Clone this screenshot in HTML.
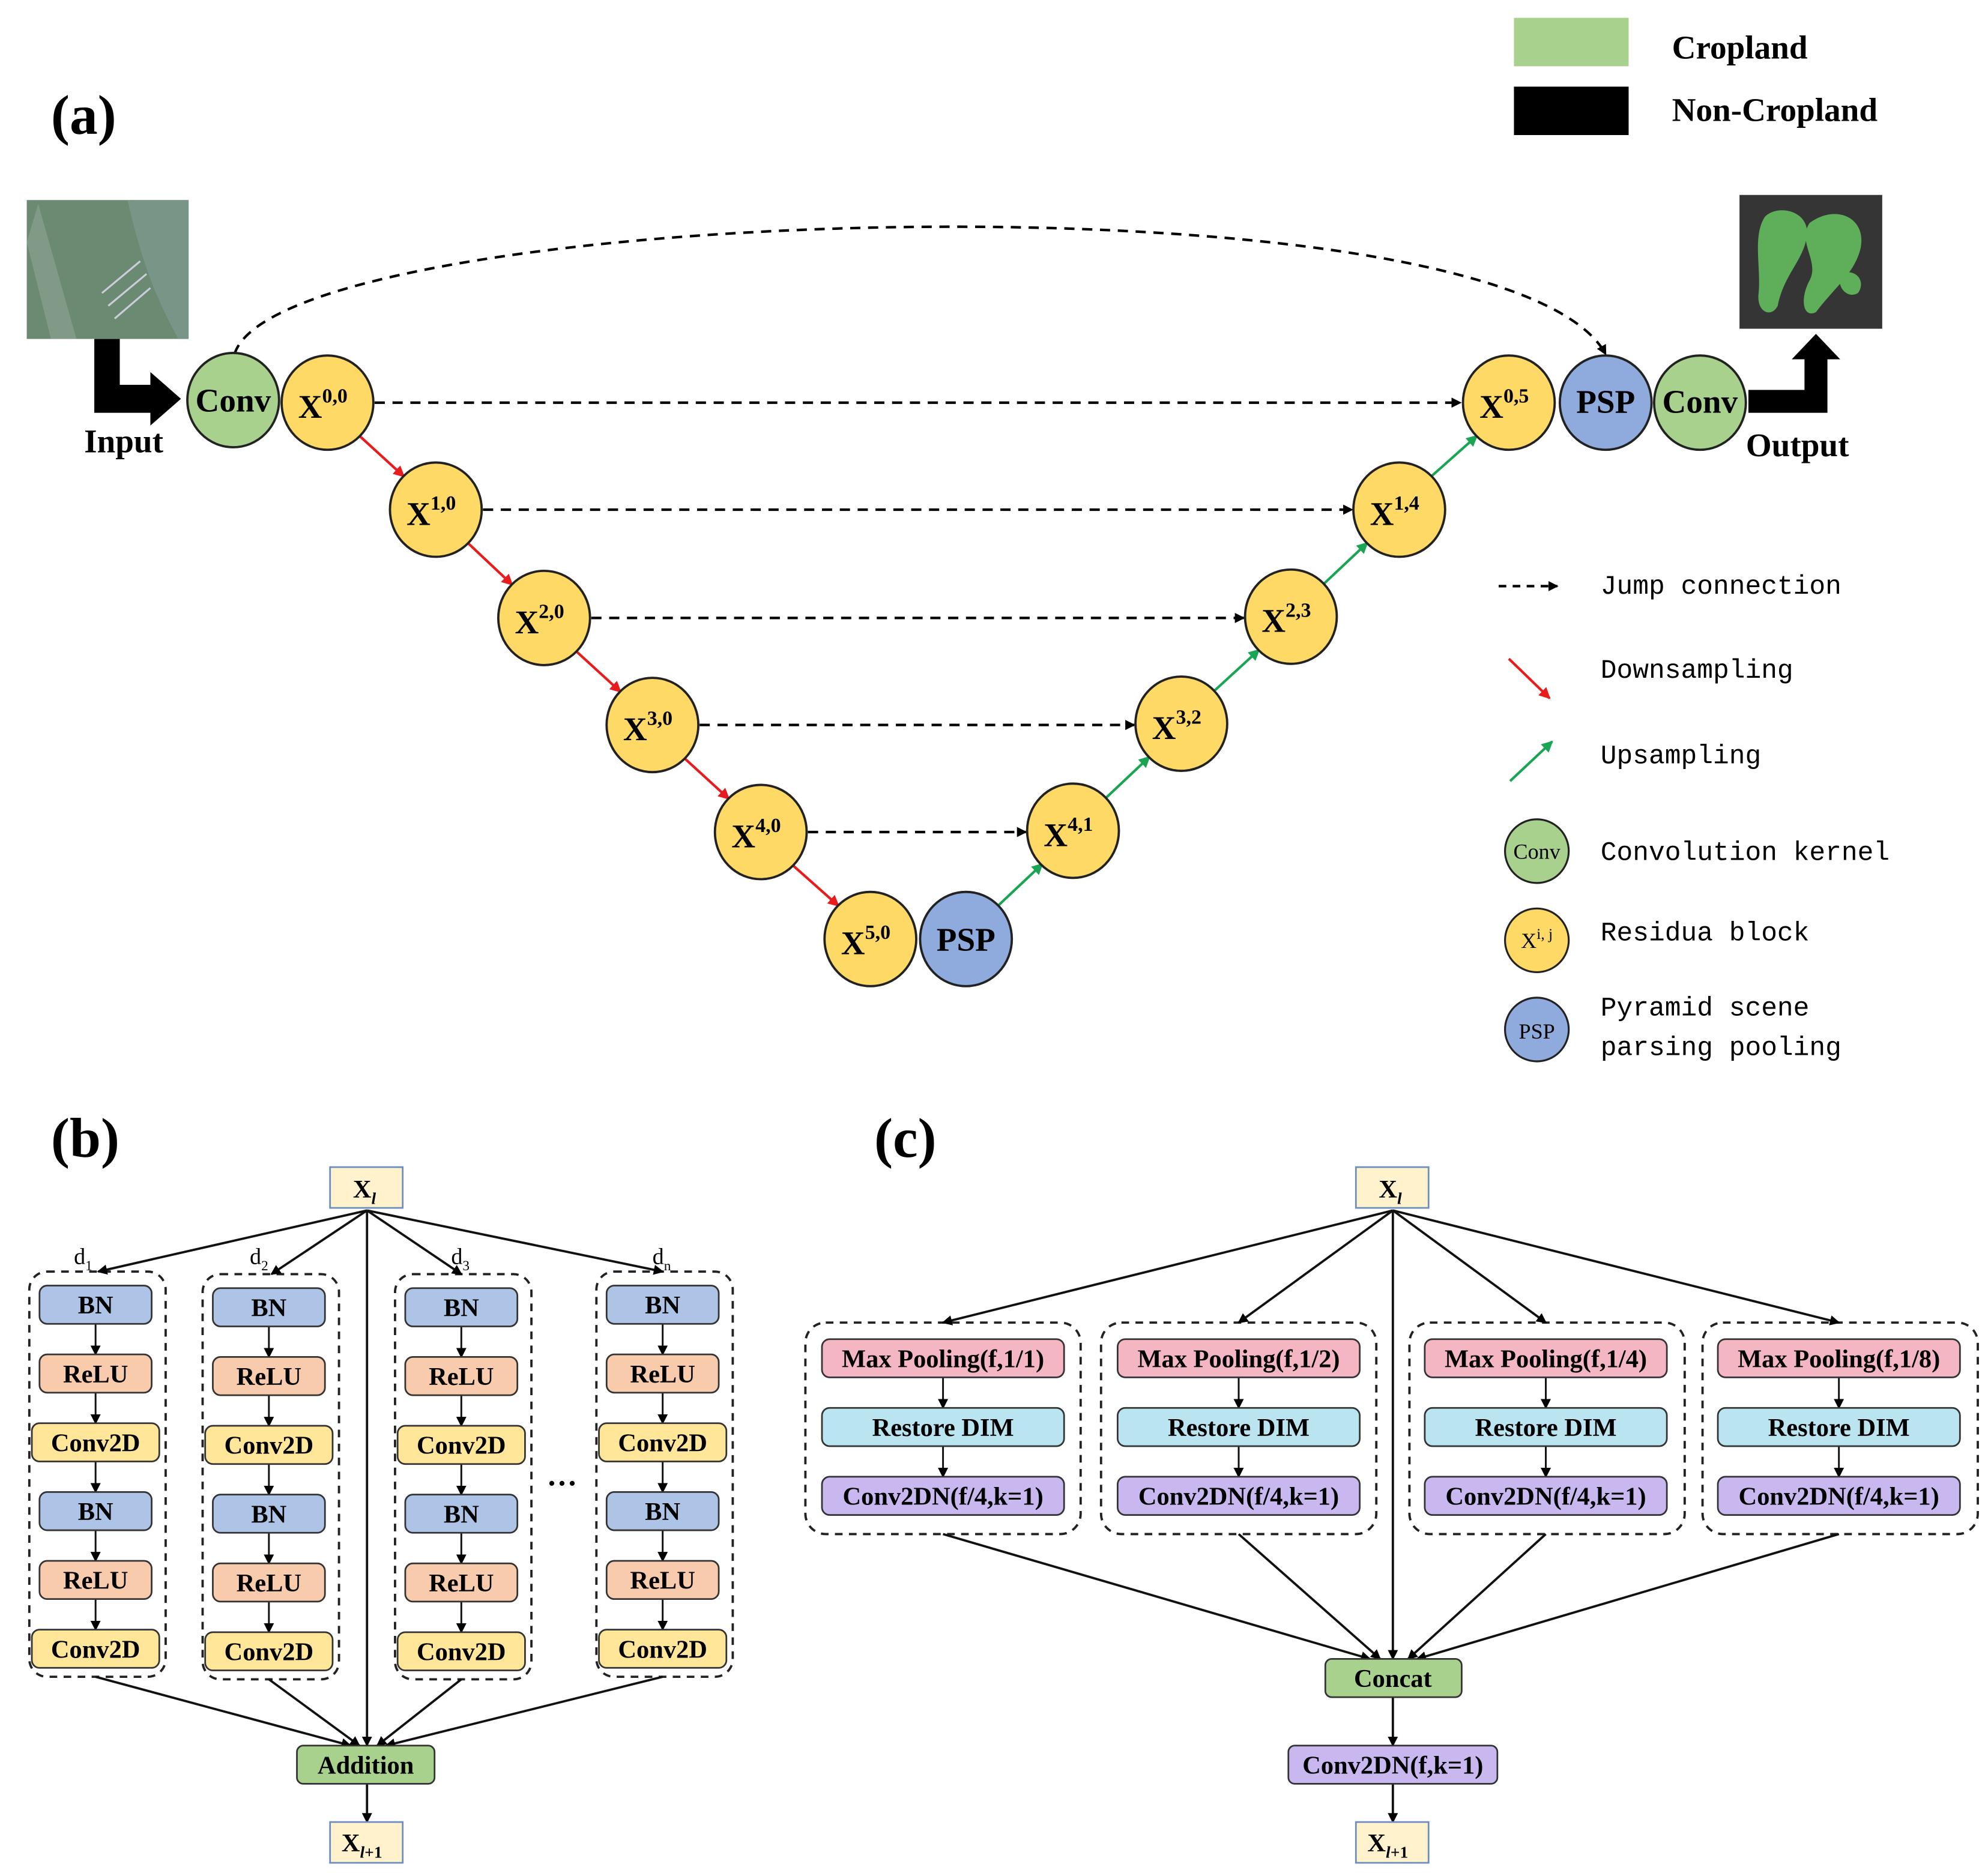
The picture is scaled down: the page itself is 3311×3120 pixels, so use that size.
<!DOCTYPE html>
<html><head><meta charset="utf-8"><style>
html,body{margin:0;padding:0;background:#fff}
svg{display:block}
.t{font-family:"Liberation Serif",serif;font-weight:bold;fill:#000}
.m{font-family:"Liberation Mono","DejaVu Sans Mono",monospace;fill:#000}
</style></head><body>
<svg width="3311" height="3120" viewBox="0 0 1560 1470" preserveAspectRatio="none" xmlns="http://www.w3.org/2000/svg">
<defs>
<marker id="ak" markerWidth="8" markerHeight="8" refX="7" refY="4" orient="auto" markerUnits="userSpaceOnUse"><path d="M0,0 L8,4 L0,8 z" fill="#000"/></marker>
<marker id="ar" markerWidth="9" markerHeight="9" refX="8" refY="4.5" orient="auto" markerUnits="userSpaceOnUse"><path d="M0,0 L9,4.5 L0,9 z" fill="#e81c1c"/></marker>
<marker id="ag" markerWidth="9" markerHeight="9" refX="8" refY="4.5" orient="auto" markerUnits="userSpaceOnUse"><path d="M0,0 L9,4.5 L0,9 z" fill="#1aa555"/></marker>
</defs>
<rect width="1560" height="1470" fill="#fff"/>

<text x="40" y="105" class="t" font-size="44">(a)</text>
<rect x="1188" y="14" width="90" height="38" fill="#a9d18e"/>
<rect x="1188" y="68" width="90" height="38" fill="#000"/>
<text x="1312" y="46" class="t" font-size="26">Cropland</text>
<text x="1312" y="95" class="t" font-size="26">Non-Cropland</text>

<rect x="21" y="157" width="127" height="109" fill="#6b8a72"/>
<path d="M100,157 C110,200 120,230 140,266 L148,266 L148,157z" fill="#7e9b92" opacity=".7"/>
<path d="M30,160 L60,266 L40,266 L21,190z" fill="#8ea596" opacity=".6"/>
<path d="M80,230 L110,205 M85,240 L115,215 M90,250 L118,226" stroke="#ccd" stroke-width="1.5"/>
<path d="M74,266 L94,266 L94,302 L118,302 L118,292 L142,313 L118,334 L118,324 L74,324z" fill="#000"/>
<text x="66" y="355" class="t" font-size="26">Input</text>

<rect x="1365" y="153" width="112" height="105" fill="#353535"/>
<path d="M1385,170 C1395,160 1420,165 1418,185 C1415,205 1400,215 1395,240 C1390,250 1378,245 1380,230 C1382,210 1375,185 1385,170z" fill="#5fae5a"/>
<path d="M1420,175 C1440,160 1465,170 1460,195 C1455,215 1440,225 1425,245 C1415,250 1412,235 1420,220 C1428,205 1410,190 1420,175z" fill="#5fae5a"/>
<path d="M1445,215 C1455,210 1465,220 1458,230 C1450,235 1440,225 1445,215z" fill="#5fae5a"/>
<path d="M1372,306 L1416,306 L1416,282 L1406,282 L1425,262 L1444,282 L1434,282 L1434,324 L1372,324z" fill="#000"/>
<text x="1370" y="358" class="t" font-size="26">Output</text>

<path d="M184,278 C220,160 1180,130 1260,278" fill="none" stroke="#000" stroke-width="2" stroke-dasharray="8,6" marker-end="url(#ak)"/>

<g stroke="#000" stroke-width="2" stroke-dasharray="8,6" marker-end="url(#ak)">
<line x1="294" y1="316" x2="1146" y2="316"/>
<line x1="379" y1="400" x2="1061" y2="400"/>
<line x1="464" y1="485" x2="976" y2="485"/>
<line x1="549" y1="569" x2="890" y2="569"/>
<line x1="634" y1="653" x2="805" y2="653"/>
</g>
<g stroke="#e81c1c" stroke-width="2" marker-end="url(#ar)">
<line x1="282" y1="342" x2="317" y2="374"/>
<line x1="367" y1="426" x2="402" y2="459"/>
<line x1="452" y1="511" x2="487" y2="543"/>
<line x1="537" y1="595" x2="572" y2="627"/>
<line x1="622" y1="679" x2="658" y2="711"/>
</g>
<g stroke="#1aa555" stroke-width="2" marker-end="url(#ag)">
<line x1="783" y1="711" x2="818" y2="678"/>
<line x1="867" y1="627" x2="902" y2="594"/>
<line x1="952" y1="543" x2="988" y2="510"/>
<line x1="1038" y1="459" x2="1073" y2="426"/>
<line x1="1123" y1="374" x2="1159" y2="342"/>
</g>

<g stroke="#222" stroke-width="1.8">
<ellipse cx="183" cy="314" rx="36" ry="37" fill="#a9d18e"/>
<ellipse cx="257" cy="316" rx="36" ry="37" fill="#ffd966"/>
<ellipse cx="342" cy="400" rx="36" ry="37" fill="#ffd966"/>
<ellipse cx="427" cy="485" rx="36" ry="37" fill="#ffd966"/>
<ellipse cx="512" cy="569" rx="36" ry="37" fill="#ffd966"/>
<ellipse cx="597" cy="653" rx="36" ry="37" fill="#ffd966"/>
<ellipse cx="683" cy="737" rx="36" ry="37" fill="#ffd966"/>
<ellipse cx="758" cy="737" rx="36" ry="37" fill="#8faadc"/>
<ellipse cx="842" cy="652" rx="36" ry="37" fill="#ffd966"/>
<ellipse cx="927" cy="568" rx="36" ry="37" fill="#ffd966"/>
<ellipse cx="1013" cy="484" rx="36" ry="37" fill="#ffd966"/>
<ellipse cx="1098" cy="400" rx="36" ry="37" fill="#ffd966"/>
<ellipse cx="1184" cy="316" rx="36" ry="37" fill="#ffd966"/>
<ellipse cx="1260" cy="316" rx="36" ry="37" fill="#8faadc"/>
<ellipse cx="1334" cy="316" rx="36" ry="37" fill="#a9d18e"/>
</g>
<g class="t" font-size="26">
<text x="183" y="323" text-anchor="middle">Conv</text>
<text x="1334" y="324" text-anchor="middle">Conv</text>
<text x="758" y="746" text-anchor="middle">PSP</text>
<text x="1260" y="324" text-anchor="middle">PSP</text>
<text x="234" y="328">X<tspan font-size="16" dy="-12">0,0</tspan></text>
<text x="319" y="412">X<tspan font-size="16" dy="-12">1,0</tspan></text>
<text x="404" y="497">X<tspan font-size="16" dy="-12">2,0</tspan></text>
<text x="489" y="581">X<tspan font-size="16" dy="-12">3,0</tspan></text>
<text x="574" y="665">X<tspan font-size="16" dy="-12">4,0</tspan></text>
<text x="660" y="749">X<tspan font-size="16" dy="-12">5,0</tspan></text>
<text x="819" y="664">X<tspan font-size="16" dy="-12">4,1</tspan></text>
<text x="904" y="580">X<tspan font-size="16" dy="-12">3,2</tspan></text>
<text x="990" y="496">X<tspan font-size="16" dy="-12">2,3</tspan></text>
<text x="1075" y="412">X<tspan font-size="16" dy="-12">1,4</tspan></text>
<text x="1161" y="328">X<tspan font-size="16" dy="-12">0,5</tspan></text>
</g>

<line x1="1176" y1="460" x2="1222" y2="460" stroke="#000" stroke-width="2" stroke-dasharray="6,5" marker-end="url(#ak)"/>
<line x1="1184" y1="517" x2="1216" y2="548" stroke="#e81c1c" stroke-width="2" marker-end="url(#ar)"/>
<line x1="1185" y1="613" x2="1218" y2="582" stroke="#1aa555" stroke-width="2" marker-end="url(#ag)"/>
<g stroke="#222" stroke-width="1.5">
<ellipse cx="1206" cy="668" rx="25" ry="25" fill="#a9d18e"/>
<ellipse cx="1206" cy="738" rx="25" ry="25" fill="#ffd966"/>
<ellipse cx="1206" cy="808" rx="25" ry="25" fill="#8faadc"/>
</g>
<g font-family="Liberation Serif,serif" font-size="17" text-anchor="middle">
<text x="1206" y="674">Conv</text><text x="1206" y="744">X<tspan font-size="12" dy="-7">i, j</tspan></text><text x="1206" y="815">PSP</text>
</g>
<g class="m" font-size="21">
<text x="1256" y="466">Jump connection</text>
<text x="1256" y="532">Downsampling</text>
<text x="1256" y="599">Upsampling</text>
<text x="1256" y="675">Convolution kernel</text>
<text x="1256" y="738">Residua block</text>
<text x="1256" y="797">Pyramid scene</text>
<text x="1256" y="828">parsing pooling</text>
</g>

<text x="40" y="908" class="t" font-size="44">(b)</text>
<text x="686" y="908" class="t" font-size="44">(c)</text>

<g stroke="#222" stroke-width="1.8" fill="none" stroke-dasharray="6,5">
<rect x="23" y="998" width="107" height="318" rx="14"/>
<rect x="159" y="1000" width="107" height="318" rx="14"/>
<rect x="310" y="1000" width="107" height="318" rx="14"/>
<rect x="468" y="998" width="107" height="318" rx="14"/>
<rect x="632" y="1038" width="216" height="166" rx="16"/>
<rect x="864" y="1038" width="216" height="166" rx="16"/>
<rect x="1106" y="1038" width="216" height="166" rx="16"/>
<rect x="1336" y="1038" width="216" height="166" rx="16"/>
</g>

<g stroke="#111" stroke-width="1.8" marker-end="url(#ak)">
<line x1="288" y1="950" x2="77" y2="998"/>
<line x1="288" y1="950" x2="213" y2="1000"/>
<line x1="288" y1="950" x2="362" y2="1000"/>
<line x1="288" y1="950" x2="520" y2="998"/>
<line x1="288" y1="950" x2="288" y2="1370"/>
<line x1="75" y1="1316" x2="275" y2="1370"/>
<line x1="211" y1="1318" x2="282" y2="1370"/>
<line x1="362" y1="1318" x2="296" y2="1370"/>
<line x1="520" y1="1316" x2="303" y2="1370"/>
<line x1="288" y1="1400" x2="288" y2="1430"/>
<line x1="1093" y1="950" x2="740" y2="1038"/>
<line x1="1093" y1="950" x2="972" y2="1038"/>
<line x1="1093" y1="950" x2="1213" y2="1038"/>
<line x1="1093" y1="950" x2="1443" y2="1038"/>
<line x1="1093" y1="950" x2="1093" y2="1302"/>
<line x1="740" y1="1204" x2="1075" y2="1302"/>
<line x1="972" y1="1204" x2="1083" y2="1302"/>
<line x1="1213" y1="1204" x2="1105" y2="1302"/>
<line x1="1443" y1="1204" x2="1112" y2="1302"/>
<line x1="1093" y1="1332" x2="1093" y2="1370"/>
<line x1="1093" y1="1400" x2="1093" y2="1430"/>
</g>
<g stroke="#111" stroke-width="1.4" marker-end="url(#ak)">
<line x1="75" y1="1039" x2="75" y2="1063"/><line x1="75" y1="1093" x2="75" y2="1117"/><line x1="75" y1="1147" x2="75" y2="1171"/><line x1="75" y1="1201" x2="75" y2="1225"/><line x1="75" y1="1255" x2="75" y2="1279"/>
<line x1="211" y1="1041" x2="211" y2="1065"/><line x1="211" y1="1095" x2="211" y2="1119"/><line x1="211" y1="1149" x2="211" y2="1173"/><line x1="211" y1="1203" x2="211" y2="1227"/><line x1="211" y1="1257" x2="211" y2="1281"/>
<line x1="362" y1="1041" x2="362" y2="1065"/><line x1="362" y1="1095" x2="362" y2="1119"/><line x1="362" y1="1149" x2="362" y2="1173"/><line x1="362" y1="1203" x2="362" y2="1227"/><line x1="362" y1="1257" x2="362" y2="1281"/>
<line x1="520" y1="1039" x2="520" y2="1063"/><line x1="520" y1="1093" x2="520" y2="1117"/><line x1="520" y1="1147" x2="520" y2="1171"/><line x1="520" y1="1201" x2="520" y2="1225"/><line x1="520" y1="1255" x2="520" y2="1279"/>
<line x1="740" y1="1081" x2="740" y2="1105"/><line x1="740" y1="1135" x2="740" y2="1159"/>
<line x1="972" y1="1081" x2="972" y2="1105"/><line x1="972" y1="1135" x2="972" y2="1159"/>
<line x1="1213" y1="1081" x2="1213" y2="1105"/><line x1="1213" y1="1135" x2="1213" y2="1159"/>
<line x1="1443" y1="1081" x2="1443" y2="1105"/><line x1="1443" y1="1135" x2="1443" y2="1159"/>
</g>

<g stroke="#333" stroke-width="1.3">
<rect x="259" y="916" width="57" height="32" fill="#fff2cc" stroke="#6c8ebf"/>
<rect x="259" y="1430" width="57" height="32" fill="#fff2cc" stroke="#6c8ebf"/>
<rect x="233" y="1370" width="108" height="30" rx="5" fill="#a9d18e"/>
<rect x="1064" y="916" width="57" height="32" fill="#fff2cc" stroke="#6c8ebf"/>
<rect x="1064" y="1430" width="57" height="32" fill="#fff2cc" stroke="#6c8ebf"/>
<rect x="1040" y="1302" width="107" height="30" rx="5" fill="#a9d18e"/>
<rect x="1011" y="1370" width="164" height="30" rx="5" fill="#c9b8f0"/>
</g>
<g stroke="#333" stroke-width="1.3">
<rect x="31" y="1009" width="88" height="30" rx="6" fill="#aec4e6"/>
<rect x="31" y="1063" width="88" height="30" rx="6" fill="#f8cbad"/>
<rect x="25" y="1117" width="100" height="30" rx="6" fill="#ffe699"/>
<rect x="31" y="1171" width="88" height="30" rx="6" fill="#aec4e6"/>
<rect x="31" y="1225" width="88" height="30" rx="6" fill="#f8cbad"/>
<rect x="25" y="1279" width="100" height="30" rx="6" fill="#ffe699"/>
<rect x="167" y="1011" width="88" height="30" rx="6" fill="#aec4e6"/>
<rect x="167" y="1065" width="88" height="30" rx="6" fill="#f8cbad"/>
<rect x="161" y="1119" width="100" height="30" rx="6" fill="#ffe699"/>
<rect x="167" y="1173" width="88" height="30" rx="6" fill="#aec4e6"/>
<rect x="167" y="1227" width="88" height="30" rx="6" fill="#f8cbad"/>
<rect x="161" y="1281" width="100" height="30" rx="6" fill="#ffe699"/>
<rect x="318" y="1011" width="88" height="30" rx="6" fill="#aec4e6"/>
<rect x="318" y="1065" width="88" height="30" rx="6" fill="#f8cbad"/>
<rect x="312" y="1119" width="100" height="30" rx="6" fill="#ffe699"/>
<rect x="318" y="1173" width="88" height="30" rx="6" fill="#aec4e6"/>
<rect x="318" y="1227" width="88" height="30" rx="6" fill="#f8cbad"/>
<rect x="312" y="1281" width="100" height="30" rx="6" fill="#ffe699"/>
<rect x="476" y="1009" width="88" height="30" rx="6" fill="#aec4e6"/>
<rect x="476" y="1063" width="88" height="30" rx="6" fill="#f8cbad"/>
<rect x="470" y="1117" width="100" height="30" rx="6" fill="#ffe699"/>
<rect x="476" y="1171" width="88" height="30" rx="6" fill="#aec4e6"/>
<rect x="476" y="1225" width="88" height="30" rx="6" fill="#f8cbad"/>
<rect x="470" y="1279" width="100" height="30" rx="6" fill="#ffe699"/>
<rect x="645" y="1051" width="190" height="30" rx="6" fill="#f4b6c2"/>
<rect x="645" y="1105" width="190" height="30" rx="6" fill="#b9e4f0"/>
<rect x="645" y="1159" width="190" height="30" rx="6" fill="#c9b8f0"/>
<rect x="877" y="1051" width="190" height="30" rx="6" fill="#f4b6c2"/>
<rect x="877" y="1105" width="190" height="30" rx="6" fill="#b9e4f0"/>
<rect x="877" y="1159" width="190" height="30" rx="6" fill="#c9b8f0"/>
<rect x="1118" y="1051" width="190" height="30" rx="6" fill="#f4b6c2"/>
<rect x="1118" y="1105" width="190" height="30" rx="6" fill="#b9e4f0"/>
<rect x="1118" y="1159" width="190" height="30" rx="6" fill="#c9b8f0"/>
<rect x="1348" y="1051" width="190" height="30" rx="6" fill="#f4b6c2"/>
<rect x="1348" y="1105" width="190" height="30" rx="6" fill="#b9e4f0"/>
<rect x="1348" y="1159" width="190" height="30" rx="6" fill="#c9b8f0"/>
</g>

<g class="t" font-size="20" text-anchor="middle">
<text x="75" y="1031">BN</text><text x="75" y="1085">ReLU</text><text x="75" y="1139">Conv2D</text><text x="75" y="1193">BN</text><text x="75" y="1247">ReLU</text><text x="75" y="1301">Conv2D</text>
<text x="211" y="1033">BN</text><text x="211" y="1087">ReLU</text><text x="211" y="1141">Conv2D</text><text x="211" y="1195">BN</text><text x="211" y="1249">ReLU</text><text x="211" y="1303">Conv2D</text>
<text x="362" y="1033">BN</text><text x="362" y="1087">ReLU</text><text x="362" y="1141">Conv2D</text><text x="362" y="1195">BN</text><text x="362" y="1249">ReLU</text><text x="362" y="1303">Conv2D</text>
<text x="520" y="1031">BN</text><text x="520" y="1085">ReLU</text><text x="520" y="1139">Conv2D</text><text x="520" y="1193">BN</text><text x="520" y="1247">ReLU</text><text x="520" y="1301">Conv2D</text>
<text x="287" y="1392">Addition</text>
<text x="1093" y="1324">Concat</text>
<text x="1093" y="1392">Conv2DN(f,k=1)</text>
<text x="740" y="1073">Max Pooling(f,1/1)</text><text x="740" y="1127">Restore DIM</text><text x="740" y="1181">Conv2DN(f/4,k=1)</text>
<text x="972" y="1073">Max Pooling(f,1/2)</text><text x="972" y="1127">Restore DIM</text><text x="972" y="1181">Conv2DN(f/4,k=1)</text>
<text x="1213" y="1073">Max Pooling(f,1/4)</text><text x="1213" y="1127">Restore DIM</text><text x="1213" y="1181">Conv2DN(f/4,k=1)</text>
<text x="1443" y="1073">Max Pooling(f,1/8)</text><text x="1443" y="1127">Restore DIM</text><text x="1443" y="1181">Conv2DN(f/4,k=1)</text>
<text x="286" y="940">X<tspan font-size="13" dy="5" font-style="italic">l</tspan></text>
<text x="284" y="1453">X<tspan font-size="13" dy="5"><tspan font-style="italic">l</tspan>+1</tspan></text>
<text x="1091" y="940">X<tspan font-size="13" dy="5" font-style="italic">l</tspan></text>
<text x="1089" y="1453">X<tspan font-size="13" dy="5"><tspan font-style="italic">l</tspan>+1</tspan></text>
<text x="441" y="1172" font-size="24">···</text>
</g>
<g font-family="Liberation Serif,serif" font-size="18">
<text x="58" y="992">d<tspan font-size="11" dy="5">1</tspan></text>
<text x="196" y="992">d<tspan font-size="11" dy="5">2</tspan></text>
<text x="354" y="992">d<tspan font-size="11" dy="5">3</tspan></text>
<text x="512" y="992">d<tspan font-size="11" dy="5">n</tspan></text>
</g>
</svg>
</body></html>
